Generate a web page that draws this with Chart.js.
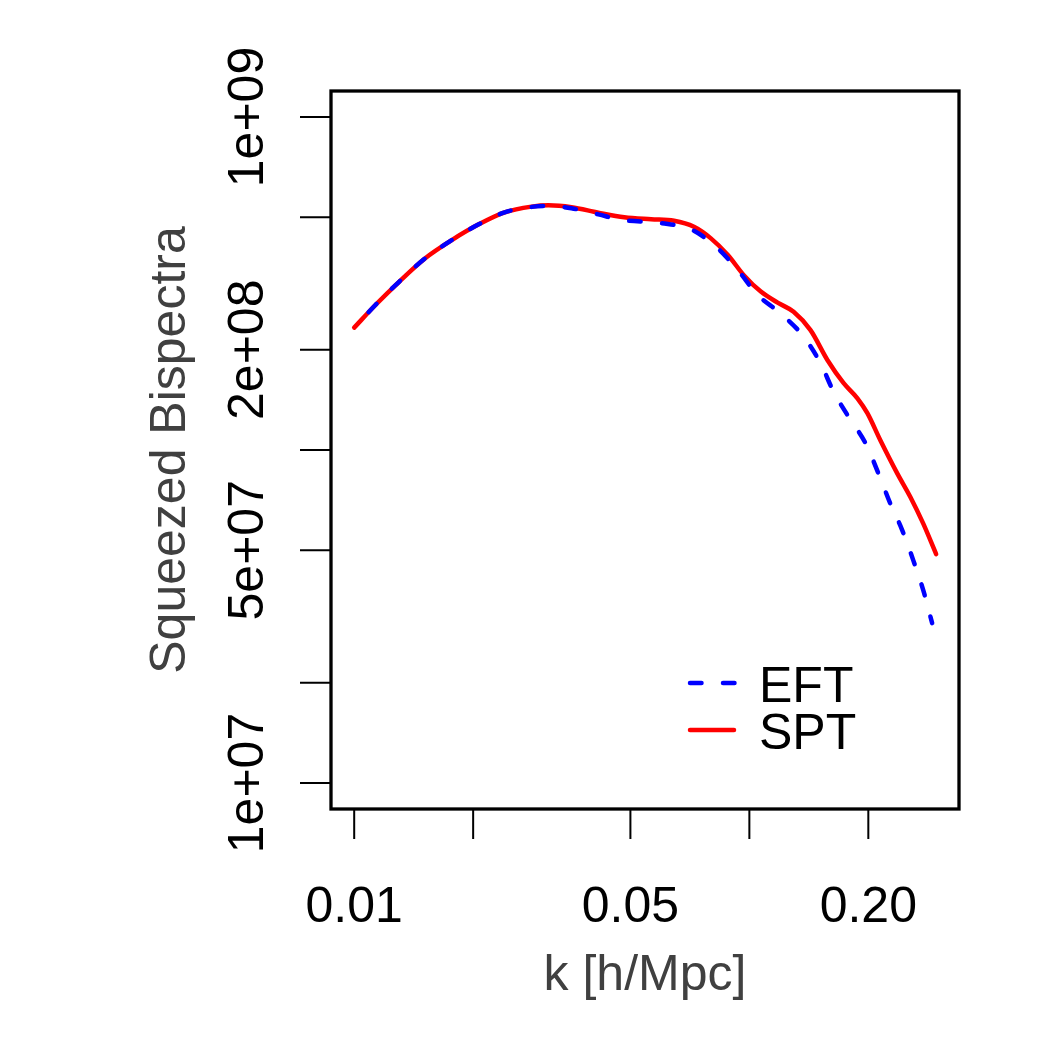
<!DOCTYPE html>
<html lang="en">
<head>
    <meta charset="UTF-8">
    <title>Squeezed Bispectra</title>
    <script src="https://cdn.jsdelivr.net/npm/chart.js"></script>
    <style>
        html, body { margin: 0; padding: 0; background: #fff; }
        canvas { display: block; }
    </style>
</head>
<body>
    <canvas id="bispec" width="1050" height="1050"></canvas>

    <script>
        // values
        const kSPT = [0.01, 0.0113, 0.01299, 0.0151, 0.01766, 0.02066, 0.02403, 0.02811, 0.03102, 0.03546, 0.04148, 0.04824, 0.05641, 0.06448, 0.07241, 0.07992, 0.08823, 0.09681, 0.1069, 0.1179, 0.1294, 0.1428, 0.1577, 0.173, 0.1877, 0.1989, 0.2145, 0.2367, 0.2553, 0.2753, 0.2969];
        const bSPT = [2.33e8, 2.72e8, 3.20e8, 3.76e8, 4.27e8, 4.76e8, 5.17e8, 5.38e8, 5.43e8, 5.36e8, 5.16e8, 5.00e8, 4.93e8, 4.88e8, 4.68e8, 4.32e8, 3.85e8, 3.35e8, 2.99e8, 2.77e8, 2.60e8, 2.29e8, 1.86e8, 1.59e8, 1.43e8, 1.29e8, 1.07e8, 8.51e7, 7.24e7, 6.02e7, 4.87e7];

        const kEFT = [0.01, 0.0113, 0.01299, 0.0151, 0.01766, 0.02066, 0.02403, 0.02811, 0.03102, 0.03546, 0.04148, 0.04739, 0.05977, 0.07115, 0.08324, 0.0935, 0.105, 0.12, 0.1372, 0.1514, 0.1632, 0.1781, 0.1966, 0.2121, 0.2272, 0.2436, 0.2598, 0.2753, 0.2901];
        const bEFT = [2.33e8, 2.72e8, 3.20e8, 3.76e8, 4.27e8, 4.76e8, 5.17e8, 5.37e8, 5.41e8, 5.32e8, 5.10e8, 4.91e8, 4.80e8, 4.60e8, 4.03e8, 3.47e8, 2.92e8, 2.57e8, 2.19e8, 1.82e8, 1.50e8, 1.26e8, 1.05e8, 8.51e7, 6.92e7, 5.75e7, 4.67e7, 3.80e7, 3.02e7];

        const xTicks = [0.01, 0.02, 0.05, 0.1, 0.2];
        const xLabels = ['0.01', '', '0.05', '', '0.20'];
        const yTicks = [1e9, 5e8, 2e8, 1e8, 5e7, 2e7, 1e7];
        const yLabels = ['1e+09', '', '2e+08', '', '5e+07', '', '1e+07'];

        const FONT = '"Liberation Sans", Arial, Helvetica, sans-serif';
        const DASH = [11.5, 21.5];

        // R style box, ticks, labels and legend
        const rAxes = {
            id: 'rAxes',
            afterDraw(chart) {
                const { ctx, chartArea: a, scales: { x, y } } = chart;
                ctx.save();

                ctx.strokeStyle = '#000';
                ctx.lineWidth = 3.3;
                ctx.strokeRect(a.left, a.top, a.right - a.left, a.bottom - a.top);

                ctx.lineWidth = 2;
                ctx.beginPath();
                xTicks.forEach(v => {
                    const px = x.getPixelForValue(v);
                    ctx.moveTo(px, a.bottom);
                    ctx.lineTo(px, a.bottom + 30);
                });
                yTicks.forEach(v => {
                    const py = y.getPixelForValue(v);
                    ctx.moveTo(a.left, py);
                    ctx.lineTo(a.left - 31, py);
                });
                ctx.stroke();

                ctx.fillStyle = '#000';
                ctx.font = '50px ' + FONT;
                ctx.textAlign = 'center';
                ctx.textBaseline = 'alphabetic';
                xTicks.forEach((v, i) => {
                    if (xLabels[i]) ctx.fillText(xLabels[i], x.getPixelForValue(v), 922);
                });
                yTicks.forEach((v, i) => {
                    if (!yLabels[i]) return;
                    ctx.save();
                    ctx.translate(263, y.getPixelForValue(v));
                    ctx.rotate(-Math.PI / 2);
                    ctx.fillText(yLabels[i], 0, 0);
                    ctx.restore();
                });

                // axis titles
                ctx.fillStyle = '#404040';
                ctx.fillText('k [h/Mpc]', (a.left + a.right) / 2, 990);
                ctx.save();
                ctx.translate(185, (a.top + a.bottom) / 2);
                ctx.rotate(-Math.PI / 2);
                ctx.fillText('Squeezed Bispectra', 0, 0);
                ctx.restore();

                // legend
                ctx.lineCap = 'round';
                ctx.lineWidth = 4.5;
                ctx.strokeStyle = '#0000ff';
                ctx.setLineDash(DASH);
                ctx.beginPath();
                ctx.moveTo(690, 683);
                ctx.lineTo(735, 683);
                ctx.stroke();
                ctx.setLineDash([]);
                ctx.strokeStyle = '#ff0000';
                ctx.beginPath();
                ctx.moveTo(690, 730);
                ctx.lineTo(734, 730);
                ctx.stroke();

                ctx.fillStyle = '#000';
                ctx.textAlign = 'left';
                ctx.font = '50px ' + FONT;
                ctx.fillText('EFT', 759, 702);
                ctx.fillText('SPT', 759, 749);

                ctx.restore();
            }
        };

        const toPoints = (ks, bs) => ks.map((k, i) => ({ x: k, y: bs[i] }));

        new Chart(document.getElementById('bispec').getContext('2d'), {
            type: 'scatter',
            data: {
                datasets: [{
                    label: 'EFT',
                    data: toPoints(kEFT, bEFT),
                    showLine: true,
                    borderColor: '#0000ff',
                    borderWidth: 4.5,
                    borderDash: DASH,
                    borderDashOffset: 12,
                    borderCapStyle: 'round',
                    pointRadius: 0,
                    cubicInterpolationMode: 'monotone'
                }, {
                    label: 'SPT',
                    data: toPoints(kSPT, bSPT),
                    showLine: true,
                    borderColor: '#ff0000',
                    borderWidth: 4.5,
                    borderCapStyle: 'round',
                    pointRadius: 0,
                    cubicInterpolationMode: 'monotone'
                }]
            },
            options: {
                responsive: false,
                devicePixelRatio: 1,
                animation: false,
                layout: { padding: { left: 331, top: 91, right: 91, bottom: 241 } },
                scales: {
                    x: { type: 'logarithmic', display: false, min: Math.pow(10, -2.0587), max: Math.pow(10, -0.4695) },
                    y: { type: 'logarithmic', display: false, min: Math.pow(10, 6.922), max: Math.pow(10, 9.078) }
                },
                plugins: {
                    legend: { display: false },
                    tooltip: { enabled: false }
                }
            },
            plugins: [rAxes]
        });
    </script>
</body>
</html>
